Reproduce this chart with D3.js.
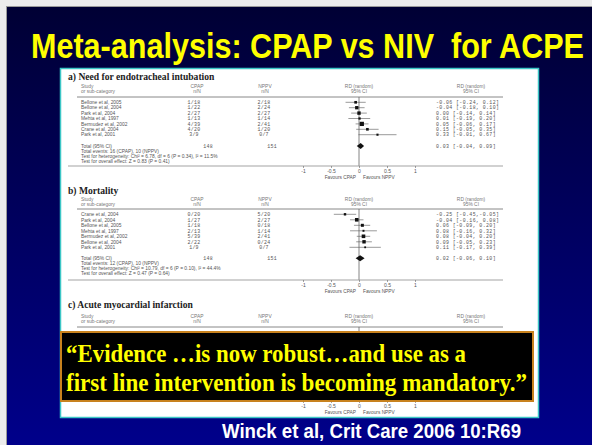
<!DOCTYPE html>
<html>
<head>
<meta charset="utf-8">
<script src="https://cdn.jsdelivr.net/npm/d3@7"></script>
<style>
  body { margin: 0; background: #fff; }
  svg { display: block; }
</style>
</head>
<body>
<svg id="chart" width="592" height="445"></svg>
<script>
"use strict";

// ---- data ----
var studiesA = ["Bellone et al, 2005", "Bellone et al, 2004", "Park et al, 2004", "Mehta et al, 1997",
                "Bermudez et al, 2002", "Crane et al, 2004", "Park et al, 2001"];
var cpapA = ["1/18", "1/22", "2/27", "1/13", "4/39", "4/20", "3/9"];
var nppvA = ["2/18", "2/24", "2/27", "1/14", "2/41", "1/20", "0/7"];
var rdA   = [-0.06, -0.04, 0.00, 0.01, 0.05, 0.15, 0.33];
var loA   = [-0.24, -0.18, -0.14, -0.19, -0.06, -0.05, -0.01];
var hiA   = [0.12, 0.10, 0.14, 0.20, 0.17, 0.35, 0.67];
var wA    = [11, 17, 18, 8, 28, 11, 7];   // weight %, only sets square size
var totalA = { n1: 148, n2: 151, rd: 0.03, lo: -0.04, hi: 0.09 };
var notesA = ["Total events: 16 (CPAP), 10 (NPPV)",
              "Test for heterogeneity: Chi\u00b2 = 6.78, df = 6 (P = 0.34), I\u00b2 = 11.5%",
              "Test for overall effect: Z = 0.83 (P = 0.41)"];

var studiesB = ["Crane et al, 2004", "Park et al, 2004", "Bellone et al, 2005", "Mehta et al, 1997",
                "Bermudez et al, 2002", "Bellone et al, 2004", "Park et al, 2001"];
var cpapB = ["0/20", "1/27", "1/18", "2/13", "5/39", "2/22", "1/9"];
var nppvB = ["5/20", "2/27", "0/18", "1/14", "2/41", "0/24", "0/7"];
var rdB   = [-0.25, -0.04, 0.06, 0.08, 0.08, 0.09, 0.11];
var loB   = [-0.45, -0.16, -0.09, -0.16, -0.04, -0.05, -0.17];
var hiB   = [-0.05, 0.08, 0.20, 0.32, 0.20, 0.23, 0.39];
var wB    = [9, 20, 14, 6, 20, 18, 5];
var totalB = { n1: 148, n2: 151, rd: 0.02, lo: -0.06, hi: 0.10 };
var notesB = ["Total events: 12 (CPAP), 10 (NPPV)",
              "Test for heterogeneity: Chi\u00b2 = 10.79, df = 6 (P = 0.10), I\u00b2 = 44.4%",
              "Test for overall effect: Z = 0.47 (P = 0.64)"];

var axisTicks = [-1, -0.5, 0, 0.5, 1];
var tickLabels = ["-1", "-0.5", "0", "0.5", "1"];

var svg = d3.select("#chart");
var defs = svg.append("defs");

// slide background
var grad = defs.append("linearGradient").attr("id", "bg")
    .attr("x1", 0).attr("y1", 0).attr("x2", 0).attr("y2", 1);
grad.append("stop").attr("offset", "0%").attr("stop-color", "#000034");
grad.append("stop").attr("offset", "100%").attr("stop-color", "#00008c");

svg.append("rect").attr("width", 592).attr("height", 445).attr("fill", "#ececec");
svg.append("rect").attr("x", 6.5).attr("y", 6.5).attr("width", 590).attr("height", 445)
    .attr("fill", "url(#bg)").attr("stroke", "#9a9a9a").attr("stroke-width", 1);

// title: tall and tight, stretched vertically a little
svg.append("g").attr("transform", "translate(31,58) scale(1,1.14)")
  .append("text")
    .attr("x", 0).attr("y", 0)
    .attr("textLength", 553).attr("lengthAdjust", "spacingAndGlyphs")
    .style("white-space", "pre")
    .style("font-family", "'Liberation Sans', Arial, sans-serif")
    .style("font-weight", "bold").style("font-size", "30px")
    .attr("fill", "#ffff00")
    .text("Meta-analysis: CPAP vs NIV  for ACPE");

// white picture panel
svg.append("rect").attr("x", 60.5).attr("y", 68.5).attr("width", 478).attr("height", 349)
    .attr("fill", "#ffffff").attr("stroke", "#3cc6c6").attr("stroke-width", 1.5);

// shared forest scale
var x = d3.scaleLinear().domain([-1, 1]).range([303, 415]);
var sq = d3.scaleSqrt().domain([0, 30]).range([0, 4.4]);

var sans = "'Liberation Sans', Arial, sans-serif";
var mono = "'Liberation Mono', 'DejaVu Sans Mono', monospace";
var serif = "'Liberation Serif', 'Times New Roman', serif";

function ciText(rd, lo, hi) {
    var a = rd.toFixed(2), b = lo.toFixed(2), c = hi.toFixed(2);
    if (rd >= 0) a = " " + a;
    if (hi >= 0) c = " " + c;
    return a + " [" + b + "," + c + "]";
}

function txt(g, xx, yy, s, opts) {
    opts = opts || {};
    var t = g.append("text")
        .attr("x", xx).attr("y", yy)
        .attr("dy", "0.35em")
        .attr("text-anchor", opts.anchor || "start")
        .style("font-family", opts.font || sans)
        .style("font-size", (opts.size || 4.9) + "px")
        .style("font-weight", opts.weight || "normal")
        .attr("fill", opts.fill || "#555")
        .text(s);
    if (opts.ls) t.style("letter-spacing", opts.ls + "px");
    return t;
}

function drawSection(s) {
    var g = svg.append("g");
    txt(g, 68, s.titleY, s.title, { font: serif, weight: "bold", size: 9.6, fill: "#222" });

    // header
    var hd = { fill: "#777" };
    txt(g, 81, s.headY, "Study", hd);
    txt(g, 81, s.headY + 5, "or sub-category", hd);
    txt(g, 197, s.headY, "CPAP", { anchor: "middle", fill: "#777" });
    txt(g, 197, s.headY + 5, "n/N", { anchor: "middle", fill: "#777" });
    txt(g, 265, s.headY, "NPPV", { anchor: "middle", fill: "#777" });
    txt(g, 265, s.headY + 5, "n/N", { anchor: "middle", fill: "#777" });
    txt(g, 359, s.headY, "RD (random)", { anchor: "middle", fill: "#777" });
    txt(g, 359, s.headY + 5, "95% CI", { anchor: "middle", fill: "#777" });
    txt(g, 471, s.headY, "RD (random)", { anchor: "middle", fill: "#777" });
    txt(g, 471, s.headY + 5, "95% CI", { anchor: "middle", fill: "#777" });

    g.append("line").attr("x1", 77).attr("x2", 503)
        .attr("y1", s.ruleY).attr("y2", s.ruleY)
        .attr("stroke", "#888").attr("stroke-width", 1);

    // zero line
    g.append("line").attr("x1", x(0)).attr("x2", x(0))
        .attr("y1", s.ruleY).attr("y2", s.axisY)
        .attr("stroke", "#666").attr("stroke-width", 0.8);

    if (s.studies) {
        var y = function(i) { return s.rowY + i * s.step; };
        var rows = g.selectAll(".row").data(s.studies).enter().append("g").attr("class", "row");
        rows.each(function(d, i) {
            var r = d3.select(this);
            txt(r, 81, y(i), d);
            txt(r, 194, y(i), s.cpap[i], { anchor: "middle", font: mono, size: 4.9, ls: 0.3 });
            txt(r, 264, y(i), s.nppv[i], { anchor: "middle", font: mono, size: 4.9, ls: 0.3 });
            r.append("line")
                .attr("x1", x(s.lo[i])).attr("x2", x(s.hi[i]))
                .attr("y1", y(i)).attr("y2", y(i))
                .attr("stroke", "#555").attr("stroke-width", 0.6);
            var w = sq(s.w[i]);
            r.append("rect")
                .attr("x", x(s.rd[i]) - w / 2).attr("y", y(i) - w / 2)
                .attr("width", w).attr("height", w).attr("fill", "#111");
            txt(r, 436, y(i), ciText(s.rd[i], s.lo[i], s.hi[i]), { font: mono, size: 4.9, ls: 0.4 });
        });

        // total
        var t = s.total;
        txt(g, 81, s.totalY, "Total (95% CI)");
        txt(g, 213, s.totalY, t.n1, { anchor: "end", font: mono, ls: 0.3 });
        txt(g, 277, s.totalY, t.n2, { anchor: "end", font: mono, ls: 0.3 });
        g.append("path")
            .attr("d", "M" + x(t.lo) + "," + s.totalY +
                       "L" + x(t.rd) + "," + (s.totalY - 3) +
                       "L" + x(t.hi) + "," + s.totalY +
                       "L" + x(t.rd) + "," + (s.totalY + 3) + "Z")
            .attr("fill", "#111");
        txt(g, 436, s.totalY, ciText(t.rd, t.lo, t.hi), { font: mono, ls: 0.4 });
        s.notes.forEach(function(n, i) {
            txt(g, 81, s.totalY + 5 + i * 5.2, n);
        });
    }

    // axis
    g.append("line").attr("x1", 68).attr("x2", 503)
        .attr("y1", s.axisY).attr("y2", s.axisY)
        .attr("stroke", "#999").attr("stroke-width", 0.9);
    var ax = g.append("g").attr("transform", "translate(0," + s.axisY + ")")
        .call(d3.axisBottom(x).tickValues(axisTicks).tickSize(2)
            .tickFormat(function(d, i) { return tickLabels[i]; }));
    ax.select(".domain").remove();
    ax.selectAll("line").attr("stroke", "#666").attr("stroke-width", 0.6);
    ax.selectAll("text").attr("y", 3.5).attr("dy", "0.6em")
        .style("font-family", sans).style("font-size", "5px").attr("fill", "#555");
    txt(g, x(0) - 3, s.axisY + 11, "Favours CPAP", { anchor: "end", size: 4.8 });
    txt(g, x(0) + 4, s.axisY + 11, "Favours NPPV", { size: 4.8 });
}

drawSection({
    title: "a) Need for endotracheal intubation",
    titleY: 77, headY: 86.5, ruleY: 97, rowY: 102.3, step: 5.4,
    totalY: 146, axisY: 166,
    studies: studiesA, cpap: cpapA, nppv: nppvA, rd: rdA, lo: loA, hi: hiA, w: wA,
    total: totalA, notes: notesA
});
drawSection({
    title: "b) Mortality",
    titleY: 190.5, headY: 199.5, ruleY: 209, rowY: 214.3, step: 5.5,
    totalY: 258.3, axisY: 280,
    studies: studiesB, cpap: cpapB, nppv: nppvB, rd: rdB, lo: loB, hi: hiB, w: wB,
    total: totalB, notes: notesB
});
drawSection({
    title: "c) Acute myocardial infarction",
    titleY: 305, headY: 316, ruleY: 327, axisY: 401
});

// quote box
svg.append("rect").attr("x", 61).attr("y", 332).attr("width", 472).attr("height", 69)
    .attr("fill", "#000").attr("stroke", "#c8821e").attr("stroke-width", 2);
var quote = ["\u201cEvidence \u2026is now robust\u2026and use as a",
             "first line intervention is becoming mandatory.\u201d"];
var quoteLen = [400, 461];
quote.forEach(function(q, i) {
    svg.append("text")
        .attr("x", 66).attr("y", 362 + i * 29)
        .attr("textLength", quoteLen[i]).attr("lengthAdjust", "spacingAndGlyphs")
        .style("font-family", serif).style("font-weight", "bold").style("font-size", "26px")
        .attr("fill", "#ffff00")
        .text(q);
});

// citation
svg.append("text")
    .attr("x", 222).attr("y", 438)
    .attr("textLength", 299).attr("lengthAdjust", "spacingAndGlyphs")
    .style("font-family", sans).style("font-weight", "bold").style("font-size", "20px")
    .attr("fill", "#ffffff")
    .text("Winck et al, Crit Care 2006 10:R69");
</script>
</body>
</html>
